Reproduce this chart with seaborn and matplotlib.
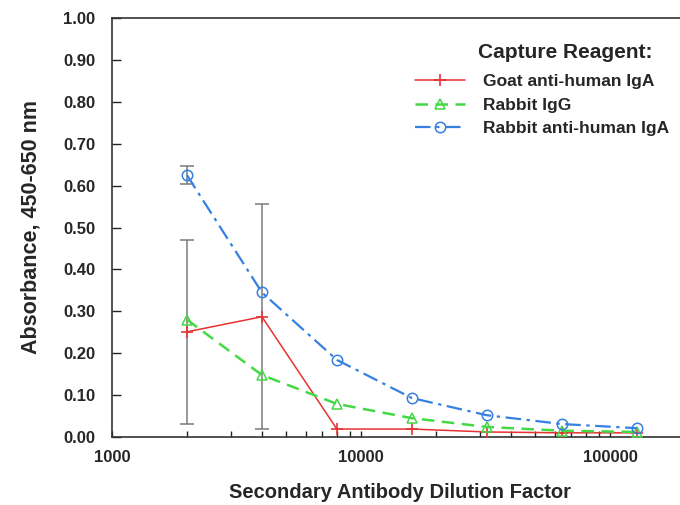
import numpy as np
import pandas as pd
import matplotlib
matplotlib.use("Agg")
import matplotlib.pyplot as plt
from matplotlib.ticker import FixedLocator, FuncFormatter, LogLocator, NullFormatter
from matplotlib.lines import Line2D
import seaborn as sns

dilution = [2000, 4000, 8000, 16000, 32000, 64000, 128000]
goat_iga = [0.251, 0.287, 0.019, 0.019, 0.012, 0.010, 0.010]
goat_err = [0.220, 0.268, 0.0, 0.0, 0.0, 0.0, 0.0]
rabbit_igg = [0.280, 0.148, 0.079, 0.045, 0.024, 0.015, 0.012]
rabbit_iga = [0.625, 0.345, 0.184, 0.093, 0.052, 0.031, 0.021]
rabbit_iga_err = [0.021, 0.0, 0.0, 0.0, 0.0, 0.0, 0.0]
series_names = ["Goat anti-human IgA", "Rabbit IgG", "Rabbit anti-human IgA"]
legend_title = "Capture Reagent:"
y_ticks = [0.0, 0.1, 0.2, 0.3, 0.4, 0.5, 0.6, 0.7, 0.8, 0.9, 1.0]
x_major = [1000, 10000, 100000]

sns.set_theme(style="white")
plt.rcParams["font.family"] = ["Liberation Sans", "DejaVu Sans"]
plt.rcParams["font.weight"] = "bold"

fig = plt.figure(figsize=(6.8, 5.05), dpi=100)
W, H = 680, 505
ax = fig.add_axes([112 / W, (H - 437) / H, (680 - 112) / W, (437 - 18) / H])
ax.set_xscale("log")

colors = ["#e83232", "#45d845", "#3580e0"]
df = pd.DataFrame({
    "dilution": dilution * 3,
    "absorbance": goat_iga + rabbit_igg + rabbit_iga,
    "reagent": [series_names[0]] * 7 + [series_names[1]] * 7 + [series_names[2]] * 7,
})

styles = {
    series_names[0]: dict(marker="+", ms=8, mew=1.2, lw=1.1, ls="-"),
    series_names[1]: dict(marker="^", ms=7.5, mew=1.1, lw=1.8, ls=(0, (5, 3)), mfc="none"),
    series_names[2]: dict(marker="o", ms=7.5, mew=1.1, lw=1.6, ls=(0, (7, 2.5, 1.5, 2.5)), mfc="none"),
}

# error bars first (behind lines)
for vals, errs in [(goat_iga, goat_err), (rabbit_iga, rabbit_iga_err)]:
    x = np.array(dilution)
    v = np.array(vals)
    e = np.array(errs)
    m = e > 0
    ax.errorbar(x[m], v[m], yerr=e[m], fmt="none", ecolor="#7a7a7a",
                elinewidth=1.1, capsize=5, capthick=1.1, zorder=1)

handles = []
for name, col in zip(series_names, colors):
    sub = df[df["reagent"] == name]
    st = styles[name]
    sns.lineplot(data=sub, x="dilution", y="absorbance", ax=ax, color=col,
                 mec=col, errorbar=None, legend=False, zorder=3, **st)
    handles.append(Line2D([], [], color=col, mec=col, **st))

ax.set_xlim(1000, 10 ** (5 + 70 / 249))
ax.set_ylim(0, 1.0)
ax.set_yticks(y_ticks)
ax.yaxis.set_major_formatter(FuncFormatter(lambda v, p: f"{v:.2f}"))
ax.xaxis.set_major_locator(FixedLocator(x_major))
ax.xaxis.set_major_formatter(FuncFormatter(lambda v, p: f"{int(round(v))}"))
ax.xaxis.set_minor_locator(LogLocator(base=10, subs=np.arange(2, 10)))
ax.xaxis.set_minor_formatter(NullFormatter())

ax.tick_params(axis="x", which="both", direction="in", length=4, width=1.0,
               color="#222222", pad=9, labelsize=12, bottom=True)
ax.tick_params(axis="y", which="major", direction="in", length=6.5, width=1.0,
               color="#222222", pad=12, labelsize=12, left=True)
for lab in ax.get_xticklabels() + ax.get_yticklabels():
    lab.set_fontweight("bold")

for s in ["left", "bottom", "top"]:
    ax.spines[s].set_visible(True)
    ax.spines[s].set_color("#333333")
    ax.spines[s].set_linewidth(1.2)
ax.spines["right"].set_visible(False)

ax.set_xlabel("Secondary Antibody Dilution Factor", fontsize=14.5, fontweight="bold")
ax.xaxis.set_label_coords((400 - 112) / 568, -46 / 419)
ax.set_ylabel("Absorbance, 450-650 nm", fontsize=15.5, fontweight="bold")
ax.yaxis.set_label_coords((42 - 112) / 568, (437 - 227) / 419)

fig.text(478 / W, 1 - 53 / H, legend_title, fontsize=15, fontweight="bold",
         ha="left", va="center")
leg = ax.legend(handles, series_names, loc="upper left",
                bbox_to_anchor=(415 / W, 1 - 74 / H), bbox_transform=fig.transFigure,
                frameon=False, borderpad=0, borderaxespad=0, handlelength=2.9,
                handletextpad=1.0, labelspacing=0.48, numpoints=1,
                prop={"size": 12.5, "weight": "bold"})

fig.savefig("out.png", dpi=100)
